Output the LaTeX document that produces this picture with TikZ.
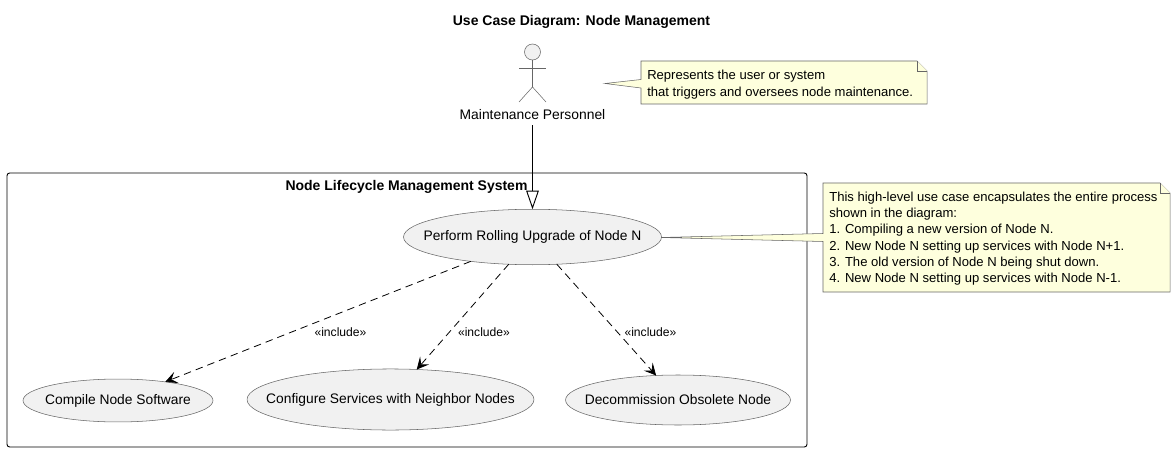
\documentclass[tikz,border=0pt]{standalone}
\usepackage{fontspec}
\setmainfont{Liberation Sans}
\usetikzlibrary{arrows.meta,shapes.geometric}
\definecolor{casefill}{HTML}{F1F1F1}
\definecolor{notefill}{HTML}{FEFFDD}
\definecolor{edgegray}{HTML}{666666}
\newcommand{\zerowide}[1]{\makebox[0pt]{#1}}

\begin{document}
\begin{tikzpicture}[x=0.75pt,y=-0.75pt,
  case node/.style={ellipse,draw=edgegray,fill=casefill,line width=0.4pt,inner sep=0pt,outer sep=0pt,font=\fontsize{10.35}{12}\selectfont},
  text node/.style={inner sep=0pt,font=\fontsize{10.4}{12}\selectfont},
  bold node/.style={inner sep=0pt,font=\fontsize{10.5}{12}\selectfont\bfseries},
  note text/.style={inner sep=0pt,anchor=north west,align=left,font=\fontsize{9.8}{12.25}\selectfont},
  inc node/.style={inner sep=0pt,font=\fontsize{9.1}{11}\selectfont},
  note line/.style={draw=edgegray,fill=notefill,line width=0.4pt},
  actor line/.style={draw=edgegray,line width=0.4pt},
  include edge/.style={dashed,dash pattern=on 5.6pt off 3.8pt,line width=0.6pt,-{Stealth[length=9pt,width=9pt,inset=4pt]}},
  extends edge/.style={line width=0.7pt,-{Triangle[open,length=14pt,width=9.5pt,fill=white]}}]
  \useasboundingbox (0,0) rectangle (1176,452);

  \node[bold node] (title) at (581.5,21.5) {Use Case Diagram: Node Management};

  % system frame
  \draw[line width=0.7pt,rounded corners=2pt] (7,173) rectangle (807,447);
  \node[bold node] (system) at (406.5,186.5) {Node Lifecycle Management System};

  % actor
  \node[circle,draw=edgegray,fill=casefill,line width=0.4pt,minimum size=12pt,inner sep=0pt,outer sep=0pt] (head) at (532.5,52) {};
  \coordinate (hip) at (532.5,87);
  \draw[actor line] (head) -- (hip);
  \draw[actor line] (519,68) -- (546,68);
  \draw[actor line] (519,102) -- (hip) -- (546,102);
  \node[text node,minimum height=16pt] (actor) at (532.5,114.5) {Maintenance Personnel};

  % use cases
  \node[case node,minimum width=193.5pt,minimum height=41.6pt] (rolling) at (532.5,237) {\zerowide{Perform Rolling Upgrade of Node N}};
  \node[case node,minimum width=142.5pt,minimum height=32.2pt] (compile) at (118,400.5) {\zerowide{Compile Node Software}};
  \node[case node,minimum width=215.2pt,minimum height=45.8pt] (configure) at (390.5,399.5) {\zerowide{Configure Services with Neighbor Nodes}};
  \node[case node,minimum width=168.7pt,minimum height=37.5pt] (decommission) at (678,400) {\zerowide{Decommission Obsolete Node}};

  \draw[extends edge] (actor) -- (rolling);
  \draw[include edge] (rolling) -- (compile);
  \draw[include edge] (rolling) -- (configure);
  \draw[include edge] (rolling) -- (decommission);
  \node[inc node] (inca) at (340.5,332) {«include»};
  \node[inc node] (incb) at (484,332) {«include»};
  \node[inc node] (incc) at (650.5,332) {«include»};

  % notes
  \draw[note line] (641,61) -- (917,61) -- (927,71) -- (927,104) -- (641,104) -- (641,88) -- (605,83.5) -- (641,79.5) -- cycle;
  \draw[note line] (917,61) -- (917,71) -- (927,71);
  \node[note text] (actornote) at (647,70) {Represents the user or system\\that triggers and oversees node maintenance.};

  \draw[note line] (823,183) -- (1160,183) -- (1170,193) -- (1170,292) -- (823,292) -- (823,241.5) -- (661,237.5) -- (823,233.5) -- cycle;
  \draw[note line] (1160,183) -- (1160,193) -- (1170,193);
  \node[note text] (casenote) at (829,191.5) {This high-level use case encapsulates the entire process\\shown in the diagram:\\1. Compiling a new version of Node N.\\2. New Node N setting up services with Node N+1.\\3. The old version of Node N being shut down.\\4. New Node N setting up services with Node N-1.};
\end{tikzpicture}
\end{document}
